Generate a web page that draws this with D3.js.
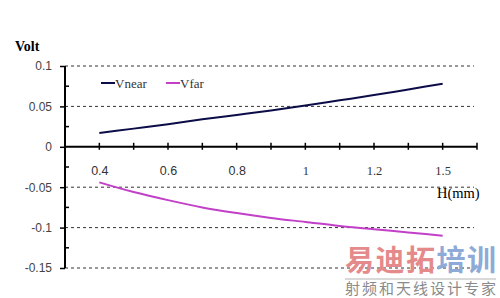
<!DOCTYPE html>
<html>
<head>
<meta charset="utf-8">
<script src="https://cdn.jsdelivr.net/npm/d3@7"></script>
<style>
  body { margin: 0; background: #fff; }
  svg { display: block; }
</style>
</head>
<body>
<svg id="chart" width="500" height="298"></svg>
<script>
// H (mm) categories, evenly spaced as in the original line chart
const categories = ["0.4", "0.5", "0.6", "0.7", "0.8", "0.9", "1", "1.1", "1.2", "1.3", "1.5"]
const xLabels = ["0.4", "0.6", "0.8", "1", "1.2", "1.5"]
const vNear = [0.017, 0.0225, 0.028, 0.034, 0.0395, 0.045, 0.051, 0.0575, 0.064, 0.071, 0.078]
const vFar = [-0.044, -0.056, -0.066, -0.075, -0.082, -0.088, -0.093, -0.098, -0.102, -0.106, -0.110]
const yTicks = [0.1, 0.05, 0, -0.05, -0.1, -0.15]
const yMinor = [0.075, 0.025, -0.025, -0.075, -0.125]
const seriesNames = ["Vnear", "Vfar"]
const colors = ["#0c0c48", "#c23fc8"]

const svg = d3.select("#chart")
const plotLeft = 65, plotRight = 477, plotTop = 66, plotBottom = 268

const x = d3.scalePoint().domain(categories).range([plotLeft, plotRight]).padding(1)
const y = d3.scaleLinear().domain([-0.15, 0.1]).range([plotBottom, plotTop])

// dashed grid lines
svg.append("g")
  .selectAll("line")
  .data(yTicks.filter(d => d !== 0))
  .enter()
  .append("line")
  .attr("x1", plotLeft).attr("x2", plotRight - 3)
  .attr("y1", d => y(d)).attr("y2", d => y(d))
  .attr("stroke", "#333")
  .attr("stroke-width", 1)
  .attr("stroke-dasharray", "3,3")

// y axis
const yAxis = svg.append("g")
  .attr("transform", `translate(${plotLeft},0)`)
  .call(d3.axisLeft(y).tickValues(yTicks).tickSize(5).tickPadding(8).tickFormat(d => String(d)))
yAxis.select(".domain").remove()
yAxis.selectAll(".tick line").attr("stroke", "#000").attr("stroke-width", 1.5)
yAxis.selectAll("text")
  .style("font-family", "'Liberation Sans', Arial, sans-serif")
  .style("font-size", "12px")
  .attr("fill", "#444")

svg.append("g")
  .selectAll("line")
  .data(yMinor)
  .enter()
  .append("line")
  .attr("x1", plotLeft).attr("x2", plotLeft + 4)
  .attr("y1", d => y(d)).attr("y2", d => y(d))
  .attr("stroke", "#000").attr("stroke-width", 1.5)

svg.append("line")
  .attr("x1", plotLeft).attr("x2", plotLeft)
  .attr("y1", y(0.1)).attr("y2", y(-0.15))
  .attr("stroke", "#000").attr("stroke-width", 2)

// x axis at zero
const xAxis = svg.append("g")
  .attr("transform", `translate(0,${y(0)})`)
  .call(d3.axisBottom(x).tickSize(0).tickPadding(19)
    .tickFormat(d => xLabels.includes(d) ? d : ""))
xAxis.select(".domain").remove()
xAxis.selectAll("text")
  .style("font-family", d => parseFloat(d) < 1 ? "'Liberation Sans', Arial, sans-serif" : "'Liberation Serif', 'Times New Roman', serif")
  .style("font-size", "12.5px")
  .attr("fill", "#333")

const tickPos = [plotLeft].concat(categories.map(c => x(c)), [plotRight])
svg.append("g")
  .selectAll("line")
  .data(tickPos)
  .enter()
  .append("line")
  .attr("x1", d => d).attr("x2", d => d)
  .attr("y1", y(0) - 4).attr("y2", y(0) + 3)
  .attr("stroke", "#000").attr("stroke-width", 1.5)

svg.append("line")
  .attr("x1", plotLeft).attr("x2", plotRight)
  .attr("y1", y(0)).attr("y2", y(0))
  .attr("stroke", "#000").attr("stroke-width", 2)

// series lines
const line = d3.line()
  .x((d, i) => x(categories[i]))
  .y(d => y(d))
  .curve(d3.curveMonotoneX)

;[vNear, vFar].forEach((s, i) => {
  svg.append("path")
    .datum(s)
    .attr("d", line)
    .attr("fill", "none")
    .attr("stroke", colors[i])
    .attr("stroke-width", 2)
})

// legend
const legendX = [101, 166]
seriesNames.forEach((n, i) => {
  svg.append("line")
    .attr("x1", legendX[i]).attr("x2", legendX[i] + 14)
    .attr("y1", 83).attr("y2", 83)
    .attr("stroke", colors[i]).attr("stroke-width", 2)
  svg.append("text")
    .attr("x", legendX[i] + 14).attr("y", 88)
    .style("font-family", "'Liberation Serif', 'Times New Roman', serif")
    .style("font-size", "13px")
    .attr("fill", "#333")
    .text(n)
})

// axis titles
svg.append("text")
  .attr("x", 15).attr("y", 51)
  .style("font-family", "'Liberation Serif', 'Times New Roman', serif")
  .style("font-size", "14px")
  .style("font-weight", "bold")
  .text("Volt")

svg.append("text")
  .attr("x", 437).attr("y", 198)
  .style("font-family", "'Liberation Serif', 'Times New Roman', serif")
  .style("font-size", "14.5px")
  .text("H(mm)")

// watermark
const wm = svg.append("text")
  .attr("x", 345).attr("y", 271)
  .attr("textLength", 151)
  .style("font-family", "'Noto Sans CJK SC', sans-serif")
  .style("font-size", "29px")
  .style("font-weight", "bold")
wm.append("tspan").attr("fill", "#e58a8a").text("易迪拓")
wm.append("tspan").attr("fill", "#8eaad6").text("培训")

svg.append("line")
  .attr("x1", 345).attr("x2", 496)
  .attr("y1", 279).attr("y2", 279)
  .attr("stroke", "#ccc").attr("stroke-width", 1.5)

svg.append("text")
  .attr("x", 345).attr("y", 294)
  .attr("textLength", 151)
  .style("font-family", "'Noto Sans CJK SC', sans-serif")
  .style("font-size", "15px")
  .attr("fill", "#8a8a8a")
  .text("射频和天线设计专家")
</script>
</body>
</html>
